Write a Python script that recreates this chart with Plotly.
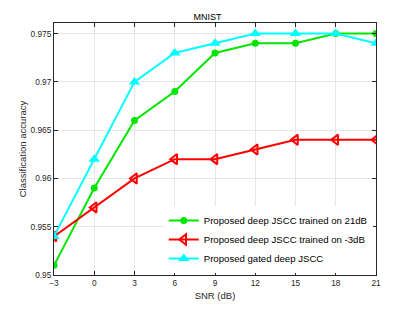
import plotly.graph_objects as go

snr = [-3, 0, 3, 6, 9, 12, 15, 18, 21]
acc_21db = [0.951, 0.959, 0.966, 0.969, 0.973, 0.974, 0.974, 0.975, 0.975]
acc_m3db = [0.954, 0.957, 0.960, 0.962, 0.962, 0.963, 0.964, 0.964, 0.964]
acc_gated = [0.954, 0.962, 0.970, 0.973, 0.974, 0.975, 0.975, 0.975, 0.974]
names = ["Proposed deep JSCC trained on 21dB",
         "Proposed deep JSCC trained on -3dB",
         "Proposed gated deep JSCC"]
yticks = [0.95, 0.955, 0.96, 0.965, 0.97, 0.975]
ytick_text = ["0.95", "0.955", "0.96", "0.965", "0.97", "0.975"]

fig = go.Figure()
fig.add_trace(go.Scatter(x=snr, y=acc_21db, name=names[0], mode="lines+markers",
                         line=dict(color="#00e600", width=2),
                         marker=dict(symbol="circle", size=7, color="#00e600")))
fig.add_trace(go.Scatter(x=snr, y=acc_m3db, name=names[1], mode="lines+markers",
                         line=dict(color="#ff0000", width=2),
                         marker=dict(symbol="triangle-left-open", size=9, color="#ff0000",
                                     line=dict(width=2, color="#ff0000"))))
fig.add_trace(go.Scatter(x=snr, y=acc_gated, name=names[2], mode="lines+markers",
                         line=dict(color="#00ffff", width=2),
                         marker=dict(symbol="triangle-up", size=10, color="#00ffff")))

axis_common = dict(showline=True, linecolor="#262626", linewidth=1, mirror="ticks",
                   ticks="inside", ticklen=4, tickcolor="#262626",
                   showgrid=True, gridcolor="#e6e6e6", gridwidth=1, zeroline=False,
                   tickfont=dict(size=8.3, color="#262626"))

fig.update_layout(
    width=415, height=312,
    margin=dict(l=54, r=39, t=23, b=34),
    paper_bgcolor="white", plot_bgcolor="white",
    font=dict(family="Liberation Sans, Arial, sans-serif", size=9, color="#262626"),
    title=dict(text="MNIST", x=0.5, xanchor="center", y=0.946, yanchor="middle",
               font=dict(size=9, color="#000000")),
    xaxis=dict(range=[-3, 21], tickvals=snr, title=dict(text="SNR (dB)", standoff=5,
               font=dict(size=9.5)), **axis_common),
    yaxis=dict(range=[0.95, 0.9761], tickvals=yticks, ticktext=ytick_text,
               title=dict(text="Classification accuracy", standoff=2, font=dict(size=9.5)),
               **axis_common),
    legend=dict(x=0.99, y=0.008, xanchor="right", yanchor="bottom",
                bgcolor="white", borderwidth=0,
                font=dict(size=9.6, color="#000000"), tracegroupgap=0,
                itemwidth=30),
    showlegend=True,
)

fig.write_html("out.html", config={"displayModeBar": False},
               post_script="document.body.style.margin='0px';")
